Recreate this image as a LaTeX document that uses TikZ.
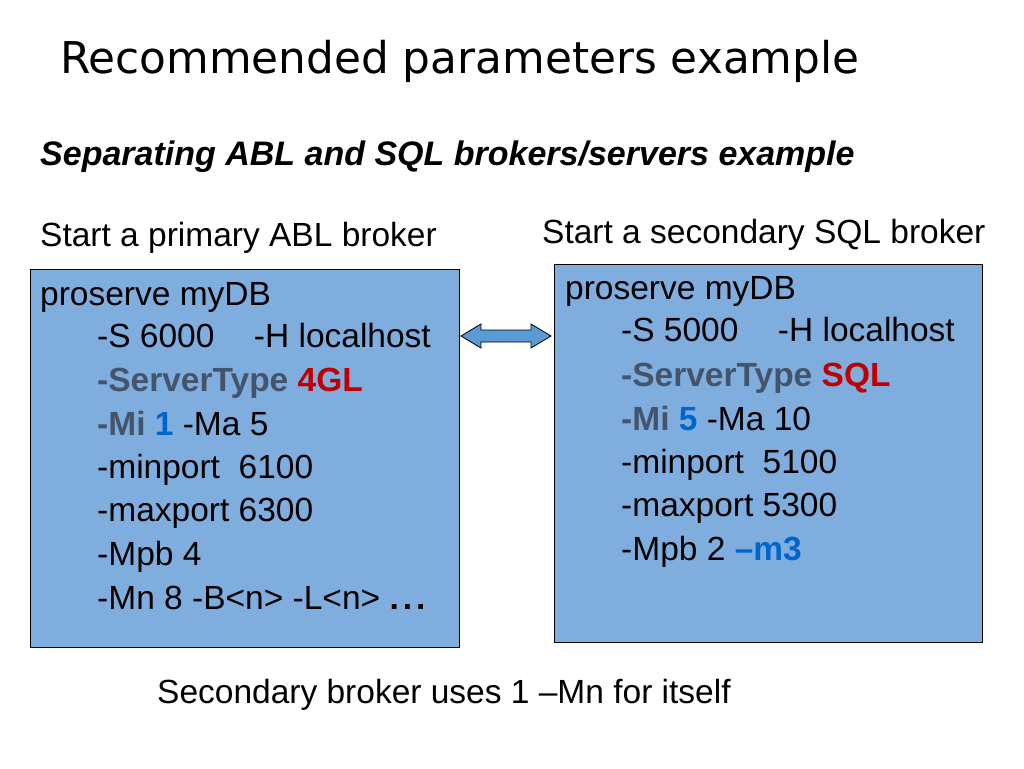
\documentclass[tikz,border=0pt]{standalone}
\usepackage{fontspec}
\setmainfont{Liberation Sans}
\newfontfamily\titlefont{DejaVu Sans}
\definecolor{boxfill}{RGB}{127,174,222}
\definecolor{arrfill}{RGB}{91,155,213}
\definecolor{gb}{RGB}{68,84,106}
\definecolor{rd}{RGB}{192,0,0}
\definecolor{bl}{RGB}{0,102,204}
\begin{document}
\begin{tikzpicture}[x=1pt,y=-1pt,
  txt/.style={anchor=base west,inner sep=0pt,font=\fontsize{33.5}{40}\selectfont},
  box/.style={draw=black,fill=boxfill,line width=1pt}]
\useasboundingbox (0,0) rectangle (1024,768);
\node[anchor=base west,inner sep=0pt,font=\titlefont\fontsize{43.8}{52}\selectfont] (title) at (60,73) {Recommended parameters example};
\node[txt,font=\fontsize{34}{40}\selectfont\bfseries\itshape] (sub) at (40,165) {Separating ABL and SQL brokers/servers example};
\node[txt] (l1) at (40,246) {Start a primary ABL broker};
\node[txt] (r1) at (542,243) {Start a secondary SQL broker};
\draw[box] (30,269) rectangle (459,647);
\draw[box] (554,264) rectangle (982,642);
\draw[draw=black,fill=arrfill,line width=0.8pt] (461,336) -- (481,324) -- (481,330) -- (531,330) -- (531,324) -- (551,336) -- (531,348) -- (531,342) -- (481,342) -- (481,348) -- cycle;
% left
\node[txt] (a1) at (40,305) {proserve myDB};
\node[txt] (a2) at (97,347) {-S 6000\hspace{0.9em} -H localhost};
\node[txt] (a3) at (97,391) {\color{gb}\bfseries -ServerType \color{rd}4GL};
\node[txt] (a4) at (97,435) {{\color{gb}\bfseries -Mi }{\color{bl}\bfseries 1} -Ma 5};
\node[txt] (a5) at (97,478) {-minport\ \ 6100};
\node[txt] (a6) at (97,521) {-maxport 6300};
\node[txt] (a7) at (97,565) {-Mpb 4};
\node[txt] (a8) at (97,609) {-Mn 8 -B<n> -L<n> {\bfseries .\hspace{0.12em}.\hspace{0.12em}.}};
% right
\node[txt] (b1) at (565,299) {proserve myDB};
\node[txt] (b2) at (621,341) {-S 5000\hspace{0.9em} -H localhost};
\node[txt] (b3) at (621,386) {\color{gb}\bfseries -ServerType \color{rd}SQL};
\node[txt] (b4) at (621,430) {{\color{gb}\bfseries -Mi }{\color{bl}\bfseries 5} -Ma 10};
\node[txt] (b5) at (621,473) {-minport\ \ 5100};
\node[txt] (b6) at (621,516) {-maxport 5300};
\node[txt] (b7) at (621,560) {-Mpb 2 {\color{bl}\bfseries –m3}};
\node[txt] (foot) at (157,703) {Secondary broker uses 1 –Mn for itself};
\end{tikzpicture}
\end{document}
